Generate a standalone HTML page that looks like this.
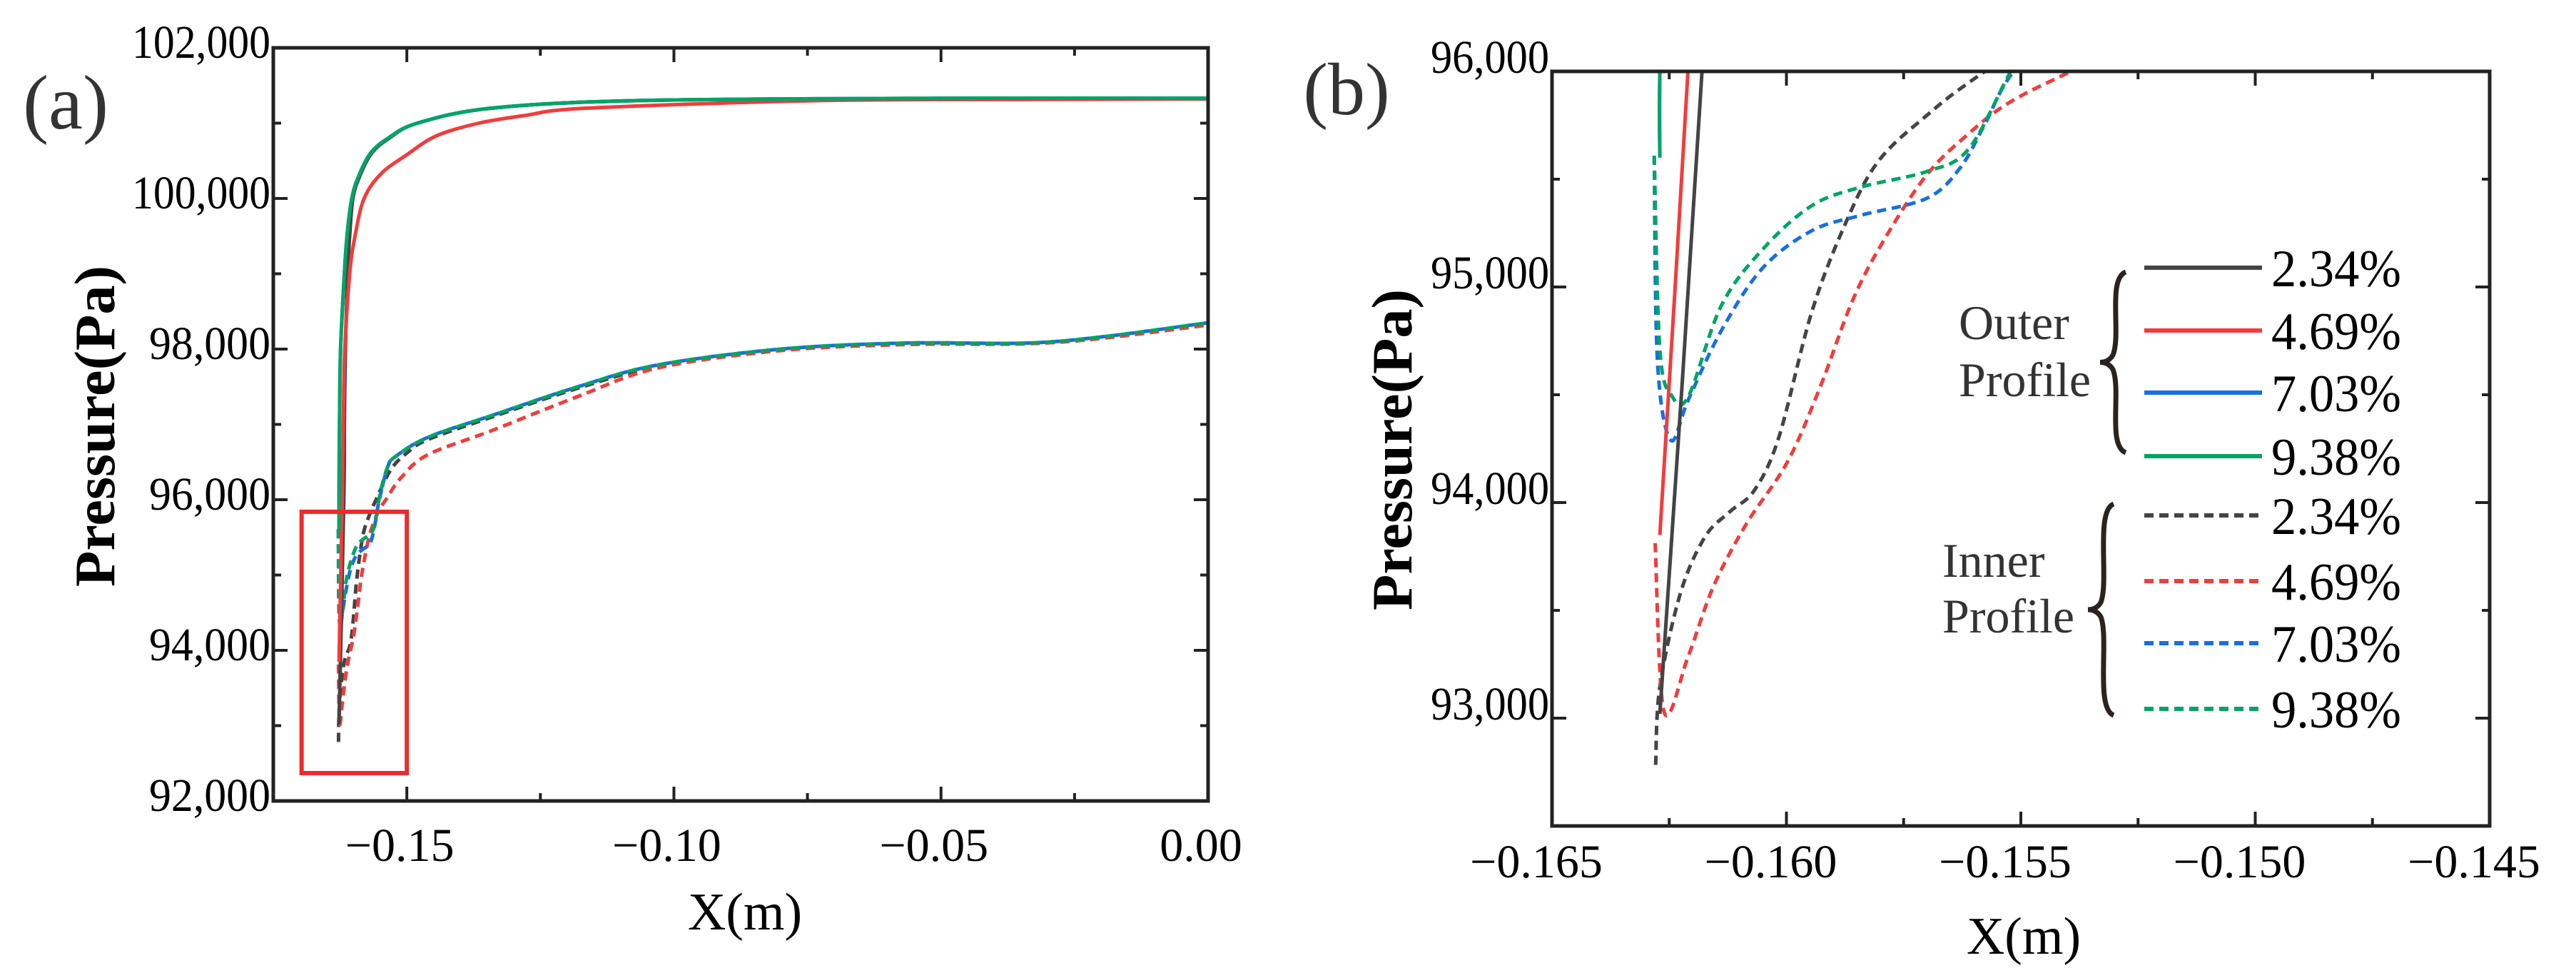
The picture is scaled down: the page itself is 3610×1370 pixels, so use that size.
<!DOCTYPE html>
<html><head><meta charset="utf-8"><style>
html,body{margin:0;padding:0;background:#fff;}
svg{display:block;}
svg text{font-family:"Liberation Serif",serif;}
</style></head><body>
<svg id="chart" width="3610" height="1370" viewBox="0 0 3610 1370" xmlns="http://www.w3.org/2000/svg" font-family="Liberation Serif, serif">
<defs>
<clipPath id="clipA"><rect x="383" y="67" width="1310" height="1055"/></clipPath>
<clipPath id="clipB"><rect x="2175" y="100" width="1314" height="1057"/></clipPath>
</defs>
<g id="panelA"></g>
<g id="panelB"></g>
<text x="92" y="180" font-size="108" text-anchor="middle" fill="#333">(a)</text>
<text x="1887" y="160" font-size="104" text-anchor="middle" fill="#333">(b)</text>
<text transform="translate(160,597) rotate(-90)" font-size="80" font-weight="bold" text-anchor="middle" textLength="450" lengthAdjust="spacingAndGlyphs">Pressure(Pa)</text>
<text x="1044" y="1302" font-size="74" text-anchor="middle">X(m)</text>
<text transform="translate(1978,630) rotate(-90)" font-size="80" font-weight="bold" text-anchor="middle" textLength="450" lengthAdjust="spacingAndGlyphs">Pressure(Pa)</text>
<text x="2836" y="1336" font-size="74" text-anchor="middle">X(m)</text>
<g id="legend"></g>
</svg>
<script>
const NS="http://www.w3.org/2000/svg";
const seriesNames=["2.34%","4.69%","7.03%","9.38%"];
const colors=["#444444","#f23c3c","#1670e0","#00a565"];
// Outer profile (solid)
const outerX=[
[-0.1627,-0.1618,-0.1617,-0.1615,-0.1611,-0.1607,-0.1601,-0.1588,-0.1566,-0.1533,-0.1480,-0.1340,-0.1060,-0.0500,0],
[-0.1627,-0.1621,-0.1619,-0.1616,-0.1607,-0.1597,-0.1580,-0.1548,-0.1500,-0.1445,-0.1365,-0.1280,-0.1160,-0.0720,-0.0300,0],
[-0.1627,-0.1627,-0.1626,-0.1624,-0.1617,-0.1612,-0.1603,-0.1590,-0.1568,-0.1535,-0.1480,-0.1340,-0.1060,-0.0500,0],
[-0.1627,-0.1627,-0.1626,-0.1624,-0.1617,-0.1612,-0.1603,-0.1590,-0.1568,-0.1535,-0.1480,-0.1340,-0.1060,-0.0500,0]];
const outerY=[
[93020,96000,97000,98000,99000,99500,100000,100300,100600,100800,101000,101200,101300,101330,101330],
[93850,96000,97000,98000,99000,99500,100000,100330,100580,100830,101000,101100,101200,101300,101315,101320],
[95600,96000,97000,98000,99000,99500,100000,100300,100600,100800,101000,101200,101300,101330,101330],
[95600,96000,97000,98000,99000,99500,100000,100300,100600,100800,101000,101200,101300,101330,101330]];
// Inner profile (dashed)
const innerX=[
[-0.16279,-0.1627,-0.16226,-0.16174,-0.16121,-0.16068,-0.16016,-0.15946,-0.15875,-0.15805,-0.1570,-0.15586,-0.153,-0.150,-0.146,-0.134,-0.118,-0.103,-0.080,-0.057,-0.034,-0.019,0],
[-0.1628,-0.16261,-0.16209,-0.16156,-0.16086,-0.15998,-0.15928,-0.15858,-0.15788,-0.1570,-0.15612,-0.15525,-0.15393,-0.151,-0.146,-0.134,-0.118,-0.103,-0.080,-0.057,-0.034,-0.019,0],
[-0.16282,-0.16275,-0.16247,-0.16209,-0.16139,-0.16051,-0.15946,-0.1584,-0.1570,-0.1563,-0.15577,-0.15516,-0.1535,-0.152,-0.146,-0.134,-0.118,-0.103,-0.080,-0.057,-0.034,-0.019,0],
[-0.16282,-0.1627,-0.16244,-0.16209,-0.16139,-0.16051,-0.15946,-0.1584,-0.1570,-0.15612,-0.15525,-0.1548,-0.1535,-0.152,-0.146,-0.134,-0.118,-0.103,-0.080,-0.057,-0.034,-0.019,0]];
const innerY=[
[92783,93145,93580,93840,93957,94058,94304,94884,95290,95580,95797,95986,96400,96620,96800,97100,97480,97770,97990,98070,98075,98160,98340],
[93812,93029,93290,93609,93899,94188,94536,94942,95232,95522,95710,95855,96000,96300,96600,96920,97370,97750,97980,98060,98070,98150,98320],
[95609,94652,94290,94478,94797,95087,95261,95333,95412,95551,95754,96000,96450,96580,96830,97120,97500,97790,98000,98080,98080,98170,98350],
[95609,94710,94493,94493,94913,95174,95377,95464,95536,95638,95986,96150,96450,96580,96830,97120,97500,97790,98000,98080,98080,98170,98350]];
const aXTicks=[-0.15,-0.10,-0.05,0.00];
const aXTickLabels=["\u22120.15","\u22120.10","\u22120.05","0.00"];
const aYTicks=[92000,94000,96000,98000,100000,102000];
const aYTickLabels=["92,000","94,000","96,000","98,000","100,000","102,000"];
const bXTicks=[-0.165,-0.160,-0.155,-0.150,-0.145];
const bXTickLabels=["\u22120.165","\u22120.160","\u22120.155","\u22120.150","\u22120.145"];
const bYTicks=[93000,94000,95000,96000];
const bYTickLabels=["93,000","94,000","95,000","96,000"];
const zoomBox=[-0.1697,-0.150,92370,95840];

function el(tag,attrs,parent){const e=document.createElementNS(NS,tag);for(const k in attrs)e.setAttribute(k,attrs[k]);parent.appendChild(e);return e;}
function mkScale(d0,d1,r0,r1){return v=>r0+(v-d0)/(d1-d0)*(r1-r0);}
function smoothPath(pts){
  let d="M"+pts[0][0].toFixed(1)+","+pts[0][1].toFixed(1);
  for(let i=0;i<pts.length-1;i++){
    const p0=pts[Math.max(0,i-1)],p1=pts[i],p2=pts[i+1],p3=pts[Math.min(pts.length-1,i+2)];
    const c1=[p1[0]+(p2[0]-p0[0])/6,p1[1]+(p2[1]-p0[1])/6];
    const c2=[p2[0]-(p3[0]-p1[0])/6,p2[1]-(p3[1]-p1[1])/6];
    d+="C"+c1[0].toFixed(1)+","+c1[1].toFixed(1)+" "+c2[0].toFixed(1)+","+c2[1].toFixed(1)+" "+p2[0].toFixed(1)+","+p2[1].toFixed(1);
  }
  return d;
}

function panel(g,cfg){
  const sx=mkScale(cfg.xd[0],cfg.xd[1],cfg.L,cfg.R), sy=mkScale(cfg.yd[0],cfg.yd[1],cfg.B,cfg.T);
  const data=el("g",{"clip-path":"url(#"+cfg.clip+")"},g);
  
  
  function line(xs,ys,color,dash,name){
    const pts=xs.map((x,i)=>[sx(x),sy(ys[i])]);
    const p=el("path",{d:smoothPath(pts),fill:"none",stroke:color,"stroke-width":5,"stroke-linejoin":"round"},data);
    if(dash)p.setAttribute("stroke-dasharray","13,8");
    
    
  }
  for(let s=0;s<4;s++)line(innerX[s],innerY[s],colors[s],true,"inner-line-"+s);
  for(let s=0;s<4;s++)line(outerX[s],outerY[s],colors[s],false,"outer-line-"+s);
  const tk=el("g",{stroke:"#222","stroke-width":4},g);
  
  
  for(let v=cfg.xd[0];v<=cfg.xd[1]+1e-9;v+=cfg.xMinor){
    const x=sx(v);const major=cfg.xTicks.some(t=>Math.abs(t-v)<1e-7);const len=major?20:11;
    el("line",{x1:x,y1:cfg.B,x2:x,y2:cfg.B-len},tk);el("line",{x1:x,y1:cfg.T,x2:x,y2:cfg.T+len},tk);
  }
  for(let v=cfg.yMinStart;v<=cfg.yd[1]+1e-6;v+=cfg.yMinor){
    const y=sy(v);const major=cfg.yTicks.includes(v);const len=major?20:11;
    el("line",{x1:cfg.L,y1:y,x2:cfg.L+len,y2:y},tk);el("line",{x1:cfg.R,y1:y,x2:cfg.R-len,y2:y},tk);
  }
  const fr=el("rect",{x:cfg.L,y:cfg.T,width:cfg.R-cfg.L,height:cfg.B-cfg.T,fill:"none",stroke:"#222","stroke-width":5},g);
  
  
  cfg.xTicks.forEach((v,i)=>{const t=el("text",{x:sx(v)+cfg.xLabDx,y:cfg.B+cfg.xLabDy,"font-size":cfg.fs,"text-anchor":"middle"},g);t.textContent=cfg.xLabels[i];
    
    });
  cfg.yTicks.forEach((v,i)=>{const t=el("text",{x:cfg.L-4,y:sy(v)+cfg.yLabDy,"font-size":cfg.fs,"text-anchor":"end",textLength:cfg.yLabW[i],lengthAdjust:"spacingAndGlyphs"},g);t.textContent=cfg.yLabels[i];
    
    });
  return {sx,sy};
}
const A=panel(document.getElementById("panelA"),{L:383,R:1693,T:67,B:1122,xd:[-0.175,0],yd:[92000,102000],clip:"clipA",
  xTicks:aXTicks,xLabels:aXTickLabels,yTicks:aYTicks,yLabels:aYTickLabels,xMinor:0.025,yMinor:1000,yMinStart:92000,
  fs:66,xLabDx:-10,xLabDy:84,yLabDy:14,yLabW:aYTickLabels.map(s=>s.length>6?194:170)});
const zb=el("rect",{x:A.sx(zoomBox[0]),y:A.sy(zoomBox[3]),width:A.sx(zoomBox[1])-A.sx(zoomBox[0]),height:A.sy(zoomBox[2])-A.sy(zoomBox[3]),fill:"none",stroke:"#ee2a2a","stroke-width":6},document.getElementById("panelA"));


panel(document.getElementById("panelB"),{L:2175,R:3489,T:100,B:1157,xd:[-0.165,-0.145],yd:[92500,96000],clip:"clipB",
  xTicks:bXTicks,xLabels:bXTickLabels,yTicks:bYTicks,yLabels:bYTickLabels,xMinor:0.0025,yMinor:500,yMinStart:92500,
  fs:66,xLabDx:-22,xLabDy:72,yLabDy:2,yLabW:bYTickLabels.map(()=>166)});

const lg=document.getElementById("legend");
const rowsOuter=[375,463,550,639], rowsInner=[722,814,901,993];
function legendRow(y,i,dash){
  const l=el("line",{x1:3005,y1:y,x2:3170,y2:y,stroke:colors[i],"stroke-width":6},lg);
  if(dash)l.setAttribute("stroke-dasharray","13,8");
  
  
  const t=el("text",{x:3183,y:y+26,"font-size":74,textLength:182,lengthAdjust:"spacingAndGlyphs"},lg);t.textContent=seriesNames[i];
  
  
}
rowsOuter.forEach((y,i)=>legendRow(y,i,false));
rowsInner.forEach((y,i)=>legendRow(y,i,true));
function brace(x,y0,y1){
  const m=(y0+y1)/2;
  const d=`M${x+14},${y0} C${x-12},${y0+10} ${x+8},${m-40} ${x-4},${m-10} Q${x-10},${m} ${x-22},${m} Q${x-10},${m} ${x-4},${m+10} C${x+8},${m+40} ${x-12},${y1-10} ${x+14},${y1}`;
  const p=el("path",{d:d,fill:"none",stroke:"#2a2320","stroke-width":7},lg);
  
  
}
brace(2965,381,634);brace(2948,706,1002);
[["Outer",2745,475],["Profile",2745,555],["Inner",2722,808],["Profile",2722,886]].forEach(a=>{
  const t=el("text",{x:a[1],y:a[2],"font-size":68,fill:"#333"},lg);t.textContent=a[0];
  
  
});
</script>
</body></html>
